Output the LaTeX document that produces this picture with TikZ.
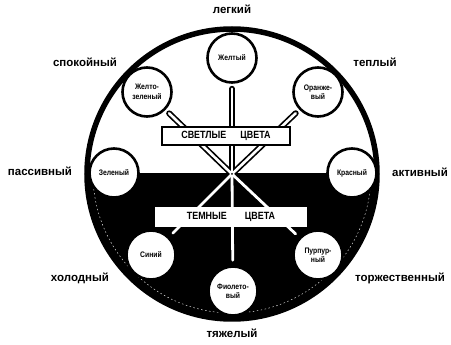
\documentclass[tikz,border=0pt]{standalone}
\usepackage{fontspec}
\setmainfont{Liberation Sans}
\newfontfamily\narrowfont{Liberation Sans}[FakeStretch=0.85]
\usetikzlibrary{positioning}

\tikzset{
  colour/.style={circle, draw, line width=2.6pt, fill=white, minimum size=49pt, inner sep=0pt, align=center,
    font=\narrowfont\bfseries\fontsize{8}{9.5}\selectfont},
  mood/.style={font=\bfseries\fontsize{11.5}{11.5}\selectfont},
  band/.style={draw, line width=1.2pt, fill=white, minimum width=128pt, minimum height=18pt, inner sep=0pt,
    font=\narrowfont\bfseries\fontsize{10.5}{10.5}\selectfont},
  spokeout/.style={line width=6pt, line cap=round, shorten >=5pt},
  spokein/.style={white, line width=2.6pt, line cap=round, shorten >=5pt},
  spokedark/.style={white, line width=2.8pt, line cap=round, shorten >=5pt},
}

\begin{document}
\begin{tikzpicture}[x=1pt,y=-1pt]
    \useasboundingbox (0,0) rectangle (451,345);
    \coordinate (mid) at (232,174);

    % dark lower half
    \begin{scope}
      \clip (0,174) rectangle (451,345);
      \fill (mid) circle (145pt);
      \draw[white, line width=0.4pt, dash pattern=on 1.5pt off 2.5pt] (mid) circle (139pt);
    \end{scope}
    \draw[line width=5.5pt] (mid) circle (145pt);

    % colours
    \node[colour] (yellow)   at (232,58)  {Желтый};
    \node[colour] (yelgreen) at (147,92)  {Желто-\\зеленый};
    \node[colour] (orange)   at (318,92)  {Оранже-\\вый};
    \node[colour] (green)    at (114,173) {Зеленый};
    \node[colour] (red)      at (352,173) {Красный};
    \node[colour] (blue)     at (151,255) {Синий};
    \node[colour] (violet)   at (233,291) {Фиолето-\\вый};
    \node[colour] (purple)   at (318,255) {Пурпур-\\ный};

    % spokes
    \foreach \c in {yellow,yelgreen,orange} \draw[spokeout] (mid) -- (\c);
    \foreach \c in {yellow,yelgreen,orange} \draw[spokein] (mid) -- (\c);
    \foreach \c in {blue,violet,purple} \draw[spokedark] (mid) -- (\c);
    \fill (mid) circle (1pt);

    \node[band] (light) at (226,136) {СВЕТЛЫЕ\hspace{14pt}ЦВЕТА};
    \node[band, draw=none, minimum width=152pt, minimum height=20pt] (dark) at (231,217) {ТЕМНЫЕ\hspace{18pt}ЦВЕТА};

    % moods
    \node[mood] (easy)    at (232,9)   {легкий};
    \node[mood] (calm)    at (85,62)   {спокойный};
    \node[mood] (warm)    at (375,62)  {теплый};
    \node[mood] (passive) at (40,171)  {пассивный};
    \node[mood] (active)  at (420,172) {активный};
    \node[mood] (cold)    at (80,278)  {холодный};
    \node[mood] (solemn)  at (400,278) {торжественный};
    \node[mood] (heavy)   at (232,333) {тяжелый};
\end{tikzpicture}
\end{document}
